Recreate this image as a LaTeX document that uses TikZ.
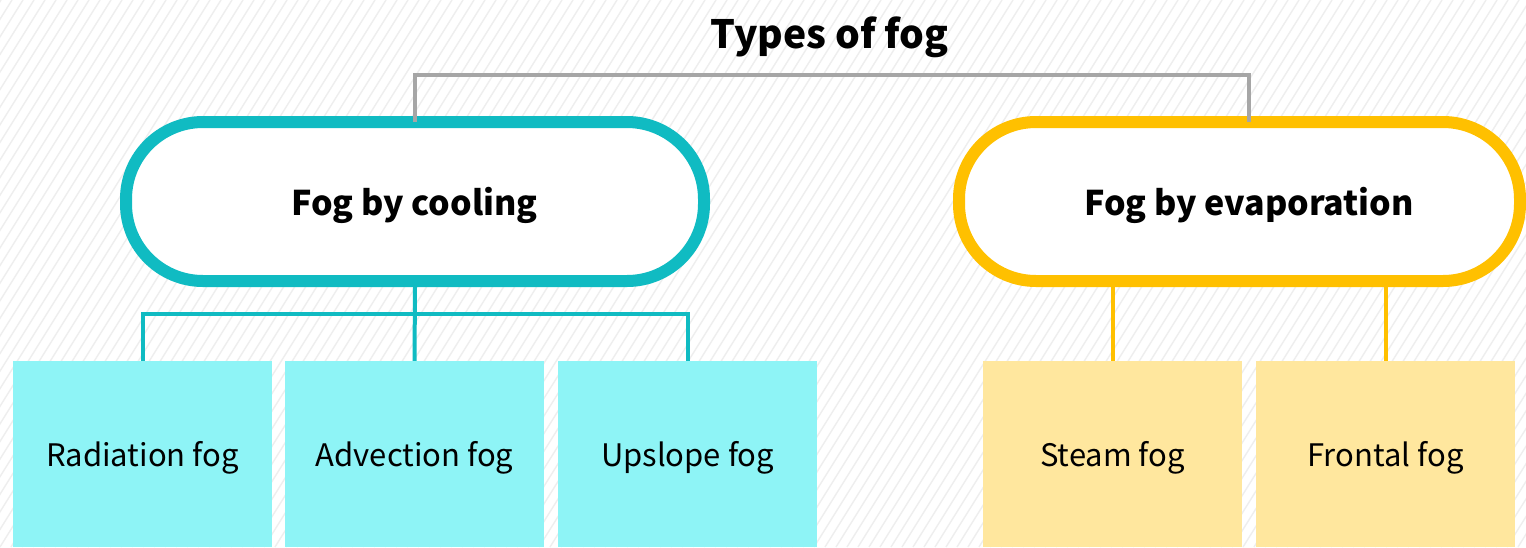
\documentclass[tikz,border=0pt]{standalone}
\usepackage{fontspec}
\setmainfont{Noto Sans CJK KR}
\definecolor{tealc}{HTML}{10BBC2}
\definecolor{cyanbox}{HTML}{8EF4F6}
\definecolor{yellowc}{HTML}{FFC000}
\definecolor{yellowbox}{HTML}{FFE79E}
\definecolor{grayc}{HTML}{A6A6A6}
\definecolor{hatchc}{HTML}{EEEEEE}
\tikzset{
  hatch/.style={draw=hatchc, line width=1.4pt},
  pill/.style={fill=white, line width=12pt, rounded corners=77pt, inner sep=0pt},
  pilltext/.style={font=\bfseries\fontsize{34}{41}\selectfont, anchor=base},
  leaf/.style={minimum width=259pt, minimum height=186pt, inner sep=0pt,
    text height=25pt, text depth=0pt,
    font=\fontsize{31}{37}\selectfont},
  tlink/.style={draw=tealc, line width=4pt},
  ylink/.style={draw=yellowc, line width=4pt},
  glink/.style={draw=grayc, line width=4.5pt},
}
\begin{document}
\begin{tikzpicture}[x=1pt,y=-1pt]
\useasboundingbox (0,0) rectangle (1526,547);
\clip (0,0) rectangle (1526,547);
\fill[white] (0,0) rectangle (1526,547);
\foreach \i in {-40,...,140} \draw[hatch] (\i*11,547) -- (\i*11+342,0);

\node[font=\bfseries\fontsize{39}{47}\selectfont, anchor=base] (title) at (829.5,48) {Types of fog};

\node[pill, draw=tealc, minimum width=578pt, minimum height=159pt] (cool) at (415,201.5) {};
\node[pilltext] (coollabel) at (414.5,215) {Fog by cooling};
\node[pill, draw=yellowc, minimum width=561pt, minimum height=159pt] (evap) at (1239.5,201.5) {};
\node[pilltext] (evaplabel) at (1249,215) {Fog by evaporation};

\node[leaf, fill=cyanbox] (rad) at (142.5,454) {Radiation fog};
\node[leaf, fill=cyanbox] (adv) at (414.5,454) {Advection fog};
\node[leaf, fill=cyanbox] (ups) at (687.5,454) {Upslope fog};
\node[leaf, fill=yellowbox] (steam) at (1112.5,454) {Steam fog};
\node[leaf, fill=yellowbox] (front) at (1385.5,454) {Frontal fog};

\draw[glink] ([yshift=-6pt]cool.north) -- ([yshift=41pt]cool.north) -| ([xshift=9.5pt,yshift=-6pt]evap.north);

\draw[tlink] (cool.south) -- (adv.north);
\draw[tlink] (rad.north) -- ++(0,-47) -| (ups.north);

\draw[ylink] (evap.south -| steam.north) -- (steam.north);
\draw[ylink] (evap.south -| front.north) -- (front.north);
\end{tikzpicture}
\end{document}
